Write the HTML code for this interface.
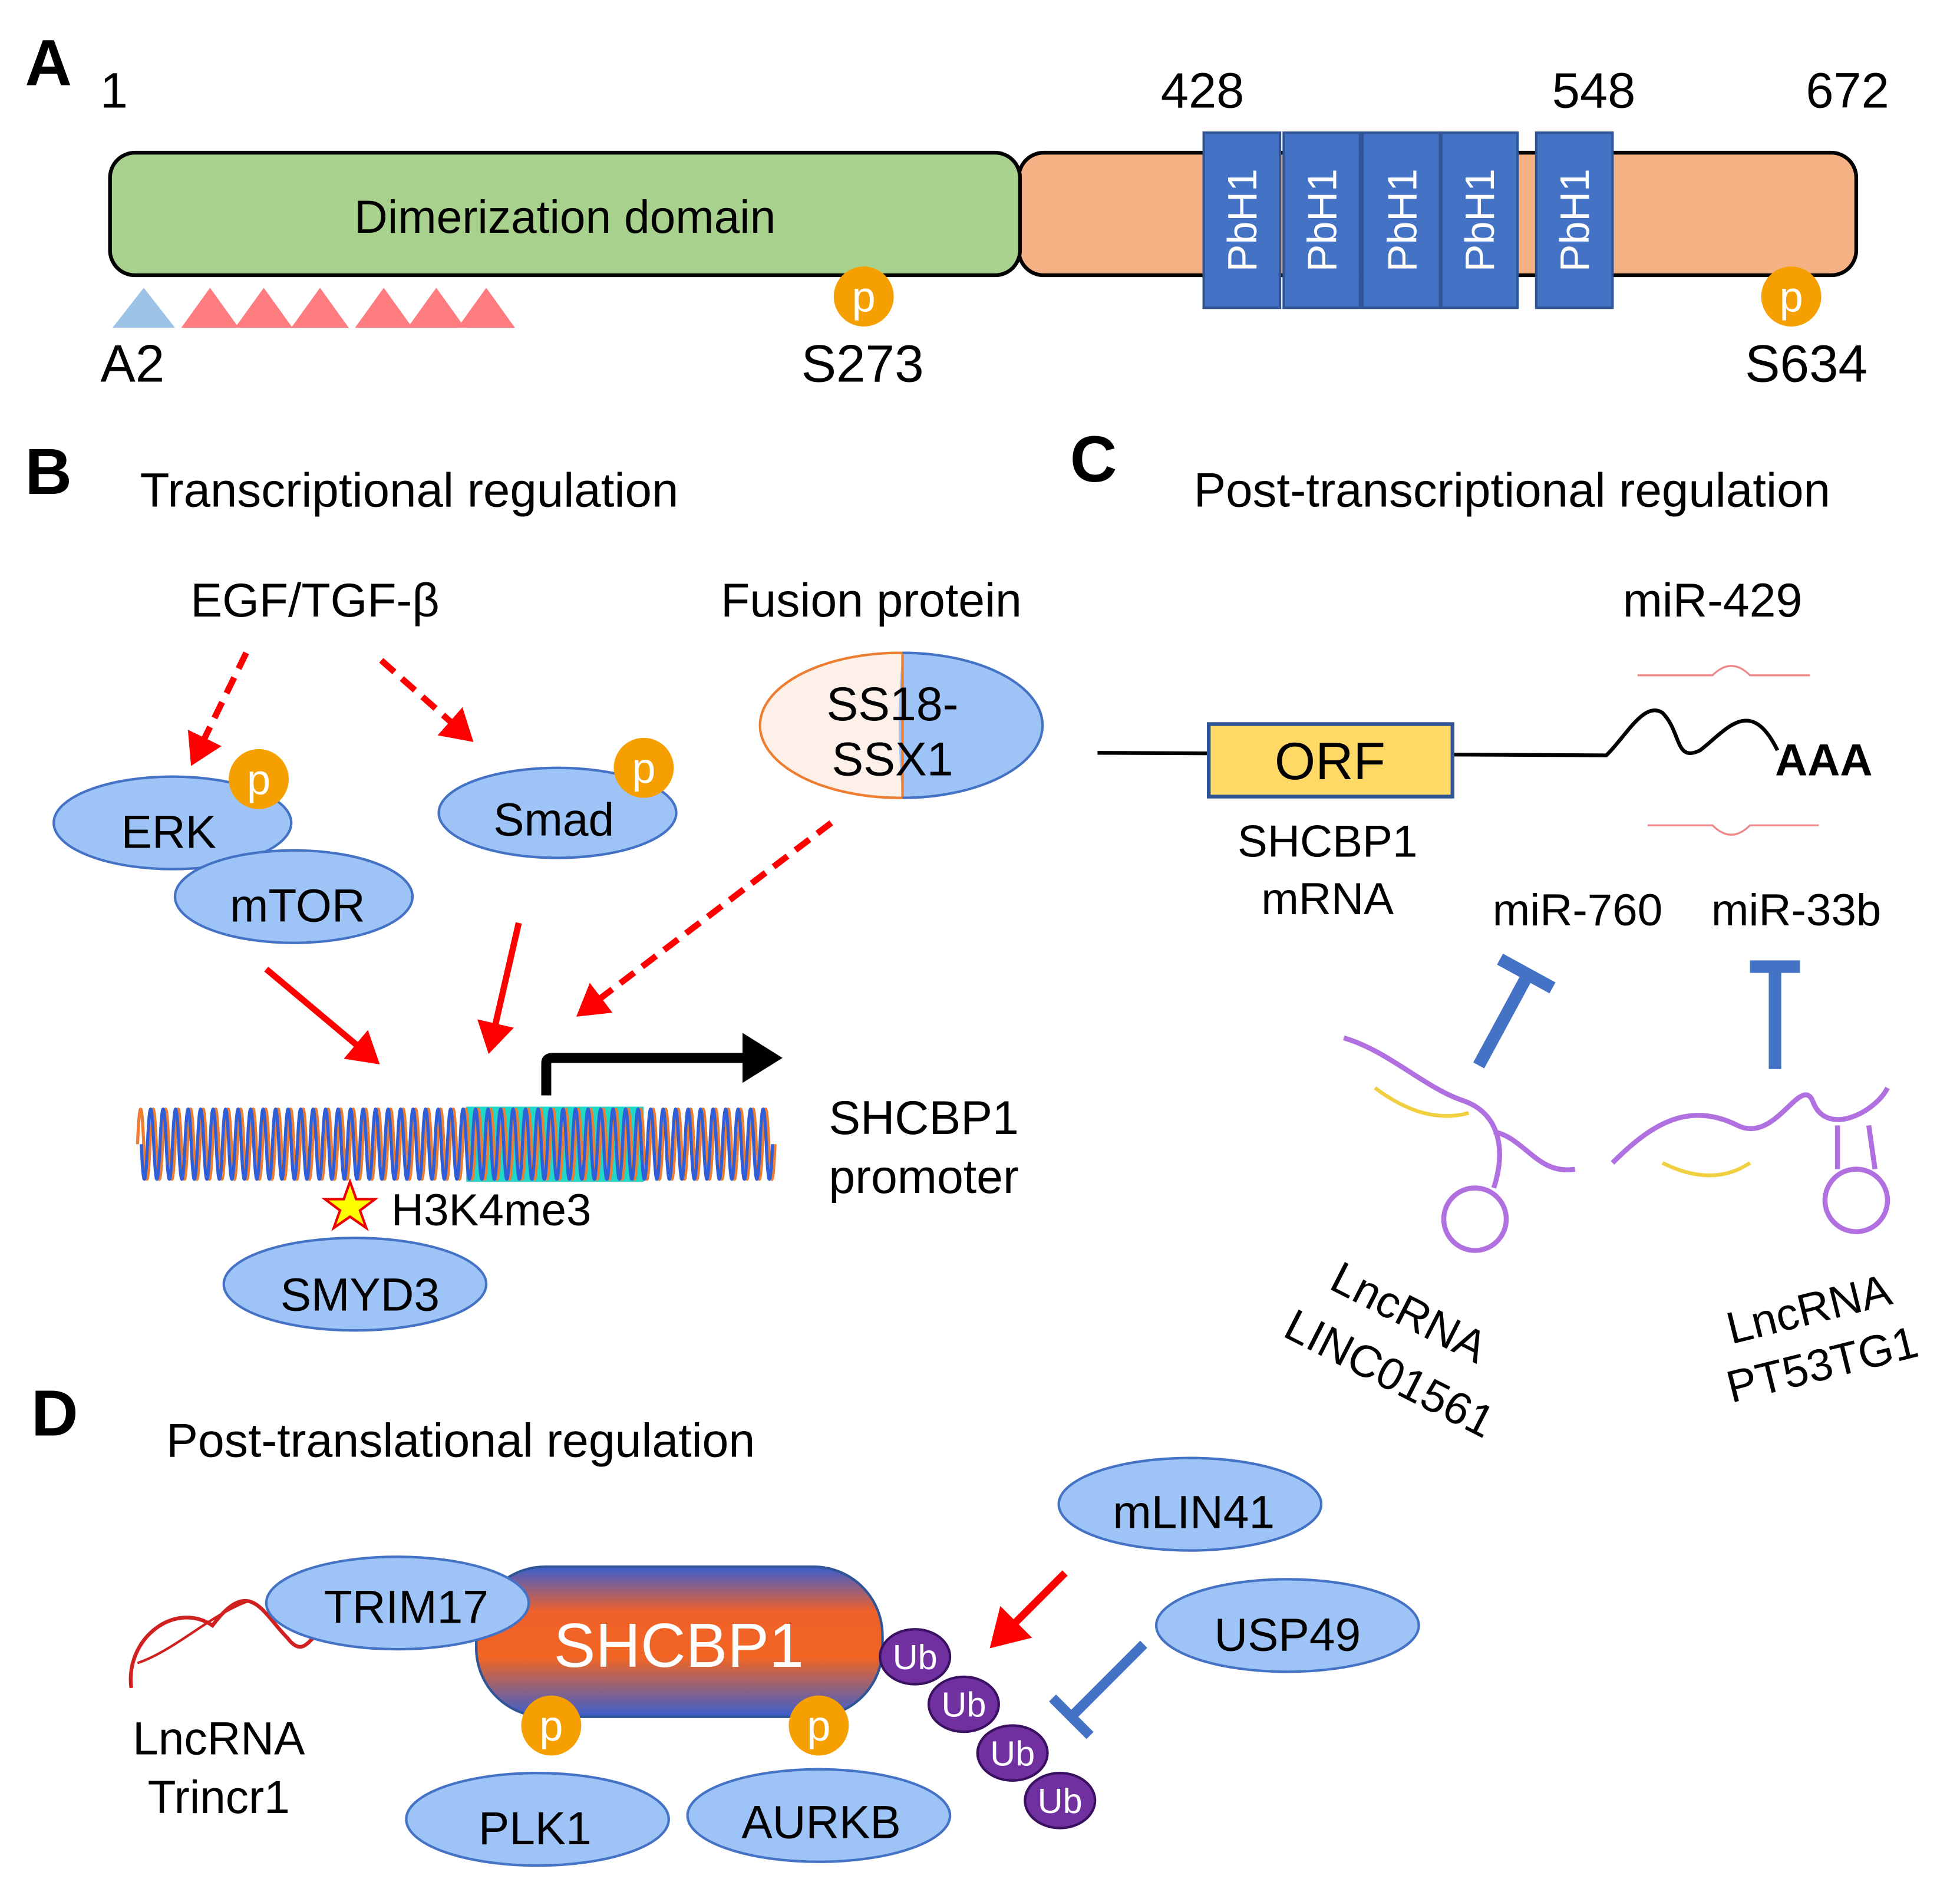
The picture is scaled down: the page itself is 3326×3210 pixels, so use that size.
<!DOCTYPE html>
<html><head><meta charset="utf-8"><style>
html,body{margin:0;padding:0;background:#fff}
svg{display:block}
text{font-family:"Liberation Sans",Arial,sans-serif}
</style></head><body>
<svg width="3326" height="3210" viewBox="0 0 1568 1513" xmlns="http://www.w3.org/2000/svg">
<defs>
<linearGradient id="g" x1="0" y1="0" x2="0" y2="1">
<stop offset="0" stop-color="#3a5fd0"/><stop offset="0.3" stop-color="#f0602a"/><stop offset="0.6" stop-color="#f26522"/><stop offset="1" stop-color="#3a5fd0"/>
</linearGradient>
<marker id="ar" markerWidth="6" markerHeight="6" refX="4" refY="3" orient="auto" markerUnits="strokeWidth"><path d="M0,0 L5,3 L0,6 z" fill="#f00"/></marker>
<marker id="ab" markerWidth="5" markerHeight="5" refX="3" refY="2.5" orient="auto" markerUnits="strokeWidth"><path d="M0,0 L4,2.5 L0,5 z" fill="#000"/></marker>
</defs>
<rect width="1568" height="1513" fill="#fff"/>
<!-- A -->
<text x="20" y="68" font-size="52" font-weight="bold">A</text>
<text x="80" y="86" font-size="40">1</text>
<text x="962" y="86" font-size="40" text-anchor="middle">428</text>
<text x="1275" y="86" font-size="40" text-anchor="middle">548</text>
<text x="1478" y="86" font-size="40" text-anchor="middle">672</text>
<rect x="815" y="122" width="670" height="98" rx="20" fill="#f4b183" stroke="#000" stroke-width="3"/>
<rect x="88" y="122" width="728" height="98" rx="20" fill="#a9d18e" stroke="#000" stroke-width="3"/>
<text x="452" y="186" font-size="37" text-anchor="middle">Dimerization domain</text>
<g fill="#4472c4" stroke="#2f5597" stroke-width="2">
<rect x="963" y="106" width="61" height="140"/><rect x="1027" y="106" width="61" height="140"/><rect x="1090" y="106" width="62" height="140"/><rect x="1153" y="106" width="61" height="140"/><rect x="1229" y="106" width="61" height="140"/></g>
<g fill="#fff" font-size="33" text-anchor="middle">
<text transform="translate(1005,176) rotate(-90)">PbH1</text><text transform="translate(1069,176) rotate(-90)">PbH1</text><text transform="translate(1133,176) rotate(-90)">PbH1</text><text transform="translate(1195,176) rotate(-90)">PbH1</text><text transform="translate(1271,176) rotate(-90)">PbH1</text></g>
<polygon points="90,262 115,230 140,262" fill="#9dc3e6"/>
<g fill="#ff7c80"><polygon points="145,262 168,230 191,262"/><polygon points="188,262 211,230 234,262"/><polygon points="233,262 256,230 279,262"/><polygon points="284,262 307,230 330,262"/><polygon points="326,262 349,230 372,262"/><polygon points="366,262 389,230 412,262"/></g>
<g font-size="34" fill="#fff" text-anchor="middle"><circle cx="691" cy="237" r="24" fill="#f5a000"/><text x="691" y="249">p</text><circle cx="1433" cy="237" r="24" fill="#f5a000"/><text x="1433" y="249">p</text></g>
<g font-size="42" text-anchor="middle"><text x="106" y="305">A2</text><text x="690" y="305">S273</text><text x="1445" y="305">S634</text></g>
<!-- B -->
<text x="20" y="395" font-size="52" font-weight="bold">B</text>
<text x="112" y="405" font-size="38.5">Transcriptional regulation</text>
<text x="252" y="493" font-size="38" text-anchor="middle">EGF/TGF-β</text>
<text x="697" y="493" font-size="38" text-anchor="middle">Fusion protein</text>
<g stroke="#f00" stroke-width="5" fill="none">
<line x1="197" y1="522" x2="155" y2="608" stroke-dasharray="14,8" marker-end="url(#ar)"/>
<line x1="305" y1="528" x2="375" y2="590" stroke-dasharray="14,8" marker-end="url(#ar)"/>
<line x1="665" y1="658" x2="465" y2="810" stroke-dasharray="14,8" marker-end="url(#ar)"/>
<line x1="213" y1="775" x2="300" y2="848" marker-end="url(#ar)"/>
<line x1="415" y1="738" x2="392" y2="838" marker-end="url(#ar)"/>
</g>
<g fill="#9dc3f7" stroke="#4472c4" stroke-width="2">
<ellipse cx="138" cy="658" rx="95" ry="37"/><ellipse cx="235" cy="717" rx="95" ry="37"/><ellipse cx="446" cy="650" rx="95" ry="36"/><ellipse cx="284" cy="1027" rx="105" ry="37"/></g>
<g font-size="37" text-anchor="middle"><text x="135" y="678">ERK</text><text x="238" y="737">mTOR</text><text x="443" y="668">Smad</text><text x="288" y="1048">SMYD3</text></g>
<g font-size="34" fill="#fff" text-anchor="middle"><circle cx="207" cy="623" r="24" fill="#f5a000"/><text x="207" y="635">p</text><circle cx="515" cy="614" r="24" fill="#f5a000"/><text x="515" y="626">p</text></g>
<ellipse cx="720" cy="580" rx="112" ry="58" fill="#fdf0e8" stroke="#ed7d31" stroke-width="2"/>
<path d="M722,522 A112,58 0 0 1 722,638 C718,600 718,560 722,522 Z" fill="#9dc3f7"/>
<line x1="722" y1="522" x2="722" y2="638" stroke="#ed7d31" stroke-width="2"/>
<path d="M722,522 A112,58 0 0 1 722,638" fill="none" stroke="#4472c4" stroke-width="2"/>
<text x="714" y="576" font-size="38" text-anchor="middle">SS18-</text><text x="714" y="620" font-size="38" text-anchor="middle">SSX1</text>
<rect x="373" y="885" width="142" height="60" fill="#20d8c8"/>
<g fill="none" stroke-width="2.5">
<path stroke="#ed7d31" d="M110,915 Q112.5,859 115,915 T120,915 T125,915 T130,915 T135,915 T140,915 T145,915 T150,915 T155,915 T160,915 T165,915 T170,915 T175,915 T180,915 T185,915 T190,915 T195,915 T200,915 T205,915 T210,915 T215,915 T220,915 T225,915 T230,915 T235,915 T240,915 T245,915 T250,915 T255,915 T260,915 T265,915 T270,915 T275,915 T280,915 T285,915 T290,915 T295,915 T300,915 T305,915 T310,915 T315,915 T320,915 T325,915 T330,915 T335,915 T340,915 T345,915 T350,915 T355,915 T360,915 T365,915 T370,915 T375,915 T380,915 T385,915 T390,915 T395,915 T400,915 T405,915 T410,915 T415,915 T420,915 T425,915 T430,915 T435,915 T440,915 T445,915 T450,915 T455,915 T460,915 T465,915 T470,915 T475,915 T480,915 T485,915 T490,915 T495,915 T500,915 T505,915 T510,915 T515,915 T520,915 T525,915 T530,915 T535,915 T540,915 T545,915 T550,915 T555,915 T560,915 T565,915 T570,915 T575,915 T580,915 T585,915 T590,915 T595,915 T600,915 T605,915 T610,915 T615,915 T620,915"/>
<path stroke="#2e5fd8" d="M113,915 Q115.5,971 118,915 T123,915 T128,915 T133,915 T138,915 T143,915 T148,915 T153,915 T158,915 T163,915 T168,915 T173,915 T178,915 T183,915 T188,915 T193,915 T198,915 T203,915 T208,915 T213,915 T218,915 T223,915 T228,915 T233,915 T238,915 T243,915 T248,915 T253,915 T258,915 T263,915 T268,915 T273,915 T278,915 T283,915 T288,915 T293,915 T298,915 T303,915 T308,915 T313,915 T318,915 T323,915 T328,915 T333,915 T338,915 T343,915 T348,915 T353,915 T358,915 T363,915 T368,915 T373,915 T378,915 T383,915 T388,915 T393,915 T398,915 T403,915 T408,915 T413,915 T418,915 T423,915 T428,915 T433,915 T438,915 T443,915 T448,915 T453,915 T458,915 T463,915 T468,915 T473,915 T478,915 T483,915 T488,915 T493,915 T498,915 T503,915 T508,915 T513,915 T518,915 T523,915 T528,915 T533,915 T538,915 T543,915 T548,915 T553,915 T558,915 T563,915 T568,915 T573,915 T578,915 T583,915 T588,915 T593,915 T598,915 T603,915 T608,915 T613,915 T618,915"/>
</g>
<path d="M437,876 L437,850 Q437,846 442,846 L618,846" fill="none" stroke="#000" stroke-width="8" marker-end="url(#ab)"/>
<text x="663" y="907" font-size="38">SHCBP1</text><text x="663" y="954" font-size="38">promoter</text>
<polygon points="280,945 285,959 300,959 288,968 293,982 280,973 267,982 272,968 260,959 275,959" fill="#ff0" stroke="#e00" stroke-width="2"/>
<text x="313" y="980" font-size="36">H3K4me3</text>
<!-- C -->
<text x="856" y="385" font-size="52" font-weight="bold">C</text>
<text x="955" y="405" font-size="38.5">Post-transcriptional regulation</text>
<text x="1370" y="493" font-size="38" text-anchor="middle">miR-429</text>
<path d="M878,602 L1285,604 C1300,590 1315,560 1330,570 C1345,585 1340,610 1360,600 C1380,585 1400,555 1422,600" fill="none" stroke="#000" stroke-width="3"/>
<text x="1420" y="620" font-size="36" font-weight="bold">AAA</text>
<rect x="967" y="579" width="195" height="58" fill="#ffd966" stroke="#2f5597" stroke-width="3"/>
<text x="1064" y="623" font-size="42" text-anchor="middle">ORF</text>
<text x="1062" y="685" font-size="36" text-anchor="middle">SHCBP1</text><text x="1062" y="731" font-size="36" text-anchor="middle">mRNA</text>
<g stroke="#e88" stroke-width="1.5" fill="none"><path d="M1310,540 L1370,540 Q1385,525 1400,540 L1448,540"/><path d="M1318,660 L1370,660 Q1385,675 1400,660 L1455,660"/></g>
<text x="1262" y="740" font-size="36" text-anchor="middle">miR-760</text><text x="1437" y="740" font-size="36" text-anchor="middle">miR-33b</text>
<g stroke="#4472c4" stroke-width="10" fill="none"><line x1="1183" y1="852" x2="1222" y2="780"/><line x1="1200" y1="767" x2="1242" y2="790"/><line x1="1420" y1="855" x2="1420" y2="773"/><line x1="1400" y1="773" x2="1440" y2="773"/></g>
<g fill="none" stroke="#b070e0" stroke-width="4">
<path d="M1075,830 C1110,840 1140,870 1170,880 C1200,890 1205,920 1195,950"/>
<path d="M1195,905 C1220,910 1230,940 1260,935"/>
<circle cx="1180" cy="975" r="25"/>
<path d="M1290,930 C1320,900 1350,880 1390,900 C1420,915 1440,860 1450,880"/>
<path d="M1450,880 C1460,910 1500,890 1510,870"/>
<circle cx="1485" cy="960" r="25"/>
<path d="M1470,935 L1470,900 M1500,935 L1495,900"/>
</g>
<g stroke="#f0d040" stroke-width="3" fill="none"><path d="M1100,870 Q1140,900 1175,890"/><path d="M1330,930 Q1370,950 1400,930"/></g>
<text transform="translate(1062,1030) rotate(27)" font-size="36">LncRNA</text>
<text transform="translate(1025,1068) rotate(27)" font-size="36">LINC01561</text>
<text transform="translate(1385,1075) rotate(-14)" font-size="36">LncRNA</text>
<text transform="translate(1385,1122) rotate(-14)" font-size="36">PT53TG1</text>
<!-- D -->
<text x="25" y="1148" font-size="52" font-weight="bold">D</text>
<text x="133" y="1165" font-size="38">Post-translational regulation</text>
<path d="M105,1350 C100,1310 140,1280 170,1300 C200,1260 210,1290 230,1310 C245,1330 250,1300 258,1310" fill="none" stroke="#d02020" stroke-width="3"/>
<path d="M110,1330 C140,1320 170,1290 200,1280" fill="none" stroke="#d02020" stroke-width="2"/>
<rect x="381" y="1253" width="325" height="120" rx="55" fill="url(#g)" stroke="#2f5597" stroke-width="2"/>
<text x="543" y="1333" font-size="50" fill="#fff" text-anchor="middle">SHCBP1</text>
<g fill="#9dc3f7" stroke="#4472c4" stroke-width="2">
<ellipse cx="318" cy="1282" rx="105" ry="37"/><ellipse cx="952" cy="1203" rx="105" ry="37"/><ellipse cx="1030" cy="1300" rx="105" ry="37"/><ellipse cx="430" cy="1455" rx="105" ry="37"/><ellipse cx="655" cy="1452" rx="105" ry="37"/></g>
<g font-size="37" text-anchor="middle"><text x="325" y="1298">TRIM17</text><text x="955" y="1222">mLIN41</text><text x="1030" y="1320">USP49</text><text x="428" y="1475">PLK1</text><text x="657" y="1470">AURKB</text>
<text x="175" y="1403">LncRNA</text><text x="175" y="1450">Trincr1</text></g>
<g font-size="34" fill="#fff" text-anchor="middle"><circle cx="441" cy="1380" r="24" fill="#f5a000"/><text x="441" y="1392">p</text><circle cx="655" cy="1380" r="24" fill="#f5a000"/><text x="655" y="1392">p</text></g>
<line x1="852" y1="1258" x2="796" y2="1314" stroke="#f00" stroke-width="6" marker-end="url(#ar)"/>
<g stroke="#4472c4" stroke-width="8"><line x1="915" y1="1315" x2="858" y2="1372"/><line x1="842" y1="1358" x2="872" y2="1388"/></g>
<g fill="#7030a0" stroke="#3a1060" stroke-width="2"><ellipse cx="732" cy="1325" rx="28" ry="22"/><ellipse cx="771" cy="1363" rx="28" ry="22"/><ellipse cx="810" cy="1402" rx="28" ry="22"/><ellipse cx="848" cy="1440" rx="28" ry="22"/></g>
<g fill="#fff" font-size="28" text-anchor="middle"><text x="732" y="1335">Ub</text><text x="771" y="1373">Ub</text><text x="810" y="1412">Ub</text><text x="848" y="1450">Ub</text></g>
</svg>
</body></html>
